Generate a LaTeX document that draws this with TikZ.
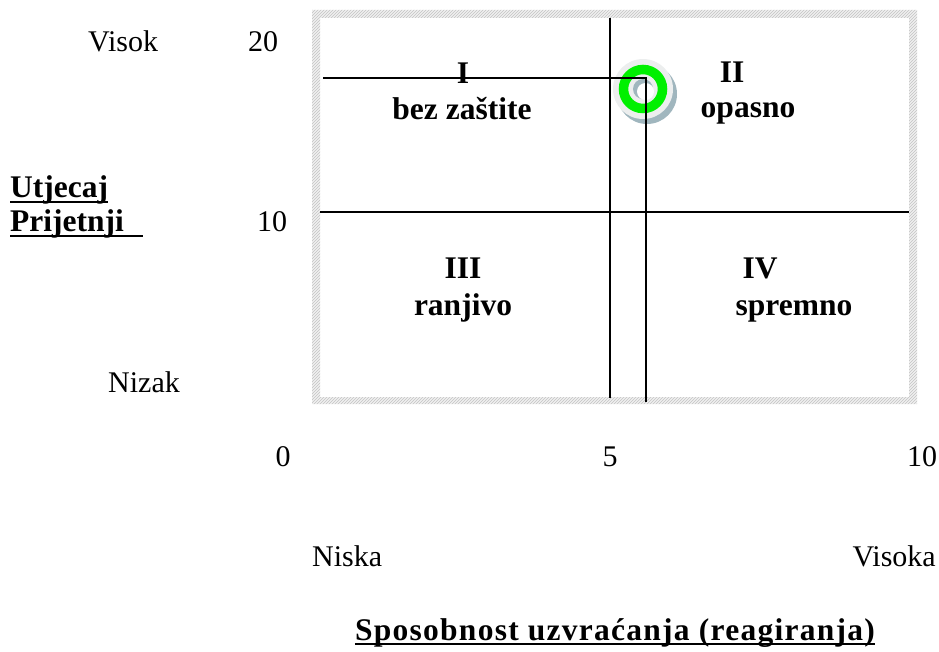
\documentclass[tikz,border=0pt]{standalone}
\usepackage{fontspec}
\setmainfont{Liberation Serif}
\newfontfamily\titlefont[LetterSpace=4]{Liberation Serif}
\usetikzlibrary{patterns}
\definecolor{ringgreen}{RGB}{0,240,0}
\definecolor{discgray}{RGB}{236,238,238}
\definecolor{shadowblue}{RGB}{160,182,190}
\definecolor{hatchbg}{RGB}{240,240,240}
\definecolor{hatchfg}{RGB}{196,196,196}
\tikzset{
  reg/.style={font=\fontsize{30}{36}\selectfont, inner sep=0pt, anchor=base west},
  bld/.style={font=\fontsize{31.5}{38}\selectfont\bfseries, inner sep=0pt, anchor=base west},
  ttl/.style={font=\fontsize{31.5}{38}\selectfont\bfseries\titlefont, inner sep=0pt, anchor=base},
  gridline/.style={line width=1.8pt, black},
  ulline/.style={line width=2.4pt, black},
}
\begin{document}
\begin{tikzpicture}[x=1pt,y=-1pt]
\useasboundingbox (0,0) rectangle (939,652);
% hatched frame
\fill[hatchbg, even odd rule] (312,10) rectangle (917,404) (320,18) rectangle (909,397);
\fill[pattern=north east lines, pattern color=hatchfg, even odd rule] (312,10) rectangle (917,404) (320,18) rectangle (909,397);
% ring
\coordinate (ring) at (643,89);
\fill[shadowblue] ([xshift=4pt,yshift=-5pt]ring) circle (30);
\fill[discgray] (ring) circle (30);
\draw[ringgreen, line width=9.5pt] (ring) circle (19.5);
\fill[shadowblue] (ring) circle (10);
\fill[white] ([xshift=2.5pt,yshift=-2.5pt]ring) circle (8.5);
% grid lines
\coordinate (v1t) at (610,18); \coordinate (v1b) at (610,398);
\coordinate (v2t) at (646,78); \coordinate (v2b) at (646,402);
\coordinate (h1l) at (323,78);
\coordinate (h2l) at (320,212); \coordinate (h2r) at (909,212);
\draw[gridline] (v1t) -- (v1b);
\draw[gridline] (h1l) -- (v2t) -- (v2b);
\draw[gridline] (h2l) -- (h2r);
% axis labels left
\node[reg] (visok) at (88,52) {Visok};
\node[reg] (n20) at (248,52) {20};
\node[bld] (utj) at (10,198) {Utjecaj};
\node[bld] (prij) at (10,232) {Prijetnji};
\draw[ulline] ([yshift=-4pt]utj.base west) -- ([yshift=-4pt]utj.base east);
\draw[ulline] ([yshift=-4pt]prij.base west) -- ([xshift=133pt,yshift=-4pt]prij.base west);
\node[reg] (n10) at (257,232) {10};
\node[reg] (nizak) at (108,392) {Nizak};
% bottom axis
\node[reg, anchor=base] (x0) at (283,466) {0};
\node[reg, anchor=base] (x5) at (610,466) {5};
\node[reg, anchor=base] (x10) at (922,466) {10};
\node[reg] (niska) at (312,566) {Niska};
\node[reg, anchor=base east] (visoka) at (936,566) {Visoka};
\node[ttl] (title) at (615,640) {Sposobnost uzvraćanja (reagiranja)};
\draw[ulline] ([yshift=-4pt]title.base west) -- ([yshift=-4pt]title.base east);
% quadrant labels
\node[bld, anchor=base] (q1) at (463,84) {I};
\node[bld, anchor=base] (q1t) at (462,120) {bez zaštite};
\node[bld, anchor=base] (q2) at (732,83) {II};
\node[bld, anchor=base] (q2t) at (748,118) {opasno};
\node[bld, anchor=base] (q3) at (463,278) {III};
\node[bld, anchor=base] (q3t) at (463,315) {ranjivo};
\node[bld, anchor=base] (q4) at (760,278) {IV};
\node[bld, anchor=base] (q4t) at (794,315) {spremno};
\end{tikzpicture}
\end{document}
